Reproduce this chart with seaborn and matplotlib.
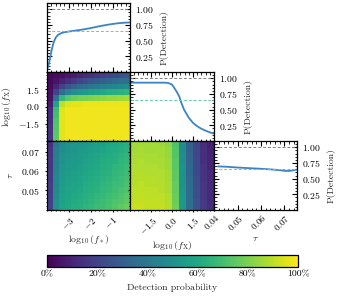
import numpy as np
import pandas as pd
import matplotlib
matplotlib.use("Agg")
import matplotlib.pyplot as plt
import seaborn as sns
from matplotlib.ticker import FixedLocator, AutoMinorLocator, MultipleLocator, FuncFormatter

# ---------------- data ----------------
fstar_range = (-4.0, -0.2)
fx_range = (-3.0, 3.0)
tau_range = (0.0398, 0.0755)

# 1D marginal: P(Detection) vs log10(f_*)
fstar_x = [-4.0, -3.9, -3.8, -3.7, -3.6, -3.5, -3.35, -3.2, -3.0, -2.7, -2.4, -2.0, -1.6, -1.2, -0.8, -0.5, -0.2]
fstar_p = [0.03, 0.15, 0.33, 0.47, 0.55, 0.59, 0.62, 0.635, 0.645, 0.66, 0.675, 0.70, 0.73, 0.755, 0.775, 0.785, 0.79]

# 1D marginal: P(Detection) vs log10(f_X)
fx_x = [-3.0, -2.0, -1.0, -0.5, -0.27, 0.0, 0.18, 0.35, 0.52, 0.63, 0.86, 1.2, 1.5, 1.77, 2.1, 2.45, 2.8, 3.0]
fx_p = [0.93, 0.93, 0.93, 0.93, 0.925, 0.90, 0.84, 0.78, 0.71, 0.63, 0.50, 0.37, 0.29, 0.24, 0.195, 0.16, 0.13, 0.12]

# 1D marginal: P(Detection) vs tau
tau_x = [0.0415, 0.045, 0.050, 0.055, 0.060, 0.065, 0.068, 0.070, 0.072, 0.0735, 0.0755]
tau_p = [0.695, 0.69, 0.677, 0.667, 0.657, 0.645, 0.635, 0.625, 0.622, 0.63, 0.645]

mean_p = 0.65
ref_p = 1.0

# heatmap log10(f_*) (cols) vs log10(f_X) (rows, top -> bottom)
hm_fstar_fx = [
    [0.02, 0.03, 0.04, 0.06, 0.08, 0.10, 0.12, 0.14, 0.16, 0.18, 0.20, 0.22, 0.24, 0.26],
    [0.02, 0.05, 0.09, 0.13, 0.17, 0.20, 0.23, 0.26, 0.28, 0.30, 0.32, 0.34, 0.36, 0.37],
    [0.03, 0.10, 0.19, 0.26, 0.31, 0.34, 0.37, 0.39, 0.41, 0.43, 0.44, 0.46, 0.47, 0.49],
    [0.04, 0.20, 0.36, 0.45, 0.50, 0.53, 0.55, 0.57, 0.59, 0.60, 0.62, 0.63, 0.64, 0.65],
    [0.05, 0.38, 0.66, 0.74, 0.77, 0.79, 0.80, 0.81, 0.82, 0.83, 0.84, 0.84, 0.85, 0.86],
    [0.08, 0.58, 0.90, 0.95, 0.96, 0.96, 0.97, 0.97, 0.97, 0.97, 0.97, 0.97, 0.97, 0.97],
    [0.12, 0.68, 0.95, 0.98, 0.98, 0.98, 0.98, 0.98, 0.98, 0.98, 0.98, 0.98, 0.98, 0.98],
    [0.13, 0.70, 0.96, 0.98, 0.98, 0.98, 0.98, 0.98, 0.98, 0.98, 0.98, 0.98, 0.98, 0.98],
    [0.14, 0.72, 0.96, 0.98, 0.98, 0.98, 0.98, 0.98, 0.98, 0.98, 0.98, 0.98, 0.98, 0.98],
    [0.15, 0.73, 0.96, 0.98, 0.98, 0.98, 0.98, 0.98, 0.98, 0.98, 0.98, 0.98, 0.98, 0.98],
    [0.15, 0.74, 0.96, 0.98, 0.98, 0.98, 0.98, 0.98, 0.98, 0.98, 0.98, 0.98, 0.98, 0.98],
    [0.16, 0.75, 0.96, 0.98, 0.98, 0.98, 0.98, 0.98, 0.98, 0.98, 0.98, 0.98, 0.98, 0.98],
]

# heatmap log10(f_*) (cols) vs tau (rows, top -> bottom)
hm_fstar_tau = [
    [0.14, 0.40, 0.48, 0.50, 0.52, 0.53, 0.54, 0.55, 0.56, 0.57, 0.59, 0.60, 0.61, 0.63],
    [0.15, 0.42, 0.49, 0.51, 0.52, 0.54, 0.55, 0.56, 0.57, 0.58, 0.60, 0.61, 0.62, 0.64],
    [0.15, 0.42, 0.50, 0.52, 0.53, 0.55, 0.56, 0.57, 0.58, 0.60, 0.61, 0.62, 0.64, 0.65],
    [0.16, 0.43, 0.51, 0.53, 0.54, 0.55, 0.57, 0.58, 0.59, 0.61, 0.62, 0.63, 0.65, 0.66],
    [0.16, 0.44, 0.52, 0.54, 0.55, 0.56, 0.58, 0.59, 0.60, 0.62, 0.63, 0.65, 0.66, 0.68],
    [0.17, 0.45, 0.53, 0.55, 0.56, 0.57, 0.59, 0.60, 0.61, 0.63, 0.64, 0.66, 0.67, 0.69],
    [0.17, 0.46, 0.54, 0.56, 0.57, 0.58, 0.60, 0.61, 0.62, 0.64, 0.65, 0.67, 0.68, 0.70],
    [0.18, 0.47, 0.55, 0.57, 0.58, 0.59, 0.61, 0.62, 0.63, 0.65, 0.66, 0.68, 0.69, 0.71],
    [0.18, 0.48, 0.56, 0.58, 0.59, 0.60, 0.62, 0.63, 0.64, 0.66, 0.67, 0.69, 0.71, 0.72],
    [0.19, 0.49, 0.57, 0.58, 0.60, 0.61, 0.63, 0.64, 0.66, 0.67, 0.69, 0.70, 0.72, 0.74],
    [0.19, 0.50, 0.57, 0.59, 0.61, 0.62, 0.64, 0.65, 0.67, 0.68, 0.70, 0.72, 0.73, 0.75],
    [0.20, 0.51, 0.58, 0.60, 0.62, 0.63, 0.65, 0.66, 0.68, 0.69, 0.71, 0.73, 0.75, 0.77],
]

# heatmap log10(f_X) (cols) vs tau (rows, top -> bottom)
hm_fx_tau = [
    [0.86, 0.86, 0.86, 0.86, 0.85, 0.83, 0.72, 0.48, 0.31, 0.20, 0.13, 0.09],
    [0.86, 0.87, 0.86, 0.86, 0.86, 0.84, 0.73, 0.48, 0.31, 0.21, 0.14, 0.09],
    [0.87, 0.87, 0.87, 0.87, 0.86, 0.84, 0.73, 0.49, 0.32, 0.21, 0.14, 0.10],
    [0.87, 0.88, 0.87, 0.87, 0.87, 0.85, 0.74, 0.49, 0.32, 0.22, 0.14, 0.10],
    [0.88, 0.88, 0.88, 0.88, 0.87, 0.85, 0.74, 0.50, 0.33, 0.22, 0.15, 0.10],
    [0.88, 0.89, 0.88, 0.88, 0.88, 0.86, 0.75, 0.50, 0.33, 0.22, 0.15, 0.11],
    [0.89, 0.89, 0.89, 0.89, 0.88, 0.86, 0.75, 0.51, 0.34, 0.23, 0.15, 0.11],
    [0.89, 0.90, 0.89, 0.89, 0.89, 0.87, 0.76, 0.51, 0.34, 0.23, 0.16, 0.11],
    [0.90, 0.90, 0.90, 0.90, 0.89, 0.87, 0.76, 0.52, 0.35, 0.24, 0.16, 0.12],
    [0.90, 0.91, 0.90, 0.90, 0.90, 0.88, 0.77, 0.52, 0.35, 0.24, 0.16, 0.12],
    [0.91, 0.91, 0.91, 0.91, 0.90, 0.88, 0.77, 0.53, 0.36, 0.25, 0.17, 0.12],
    [0.92, 0.92, 0.91, 0.91, 0.91, 0.89, 0.78, 0.53, 0.36, 0.25, 0.17, 0.13],
]

fstar_ticks = [-3, -2, -1]
fx_ticks = [-1.5, 0.0, 1.5]
tau_xticks = [0.04, 0.05, 0.06, 0.07]
tau_yticks = [0.05, 0.06, 0.07]
p_ticks = [0.25, 0.50, 0.75, 1.00]
cbar_ticks = [0.0, 0.2, 0.4, 0.6, 0.8, 1.0]
cbar_labels = ["0%", "20%", "40%", "60%", "80%", "100%"]

# ---------------- style ----------------
sns.set_style("ticks")
plt.rcParams.update({
    "font.family": "serif",
    "font.serif": ["cmr10", "DejaVu Serif"],
    "mathtext.fontset": "cm",
    "axes.formatter.use_mathtext": True,
    "font.size": 7,
    "axes.labelsize": 7,
    "xtick.labelsize": 6.5,
    "ytick.labelsize": 7,
    "axes.edgecolor": "black",
    "axes.linewidth": 0.9,
    "xtick.color": "black",
    "ytick.color": "black",
    "xtick.major.size": 3.5,
    "ytick.major.size": 3.5,
    "xtick.minor.size": 1.8,
    "ytick.minor.size": 1.8,
    "xtick.major.width": 0.8,
    "ytick.major.width": 0.8,
    "xtick.minor.width": 0.6,
    "ytick.minor.width": 0.6,
    "xtick.major.pad": 2.0,
})

cmap = "viridis"
line_color = "#3a84c6"

fig = plt.figure(figsize=(3.38, 3.0), dpi=100)
W, H = 338.0, 300.0
cols = [(47, 130), (130, 214), (214, 297)]
rows = [(3, 72), (72, 141), (141, 210)]


def add_ax(r, c):
    x0, x1 = cols[c]
    y0, y1 = rows[r]
    return fig.add_axes([x0 / W, 1 - y1 / H, (x1 - x0) / W, (y1 - y0) / H])


def style_heat(ax):
    ax.tick_params(which="both", direction="inout", top=True, right=True,
                   bottom=True, left=True)
    ax.xaxis.set_minor_locator(AutoMinorLocator(5))
    ax.yaxis.set_minor_locator(AutoMinorLocator(5))


def style_1d(ax):
    ax.tick_params(which="both", direction="in", top=True, right=True,
                   bottom=True, left=True, labelleft=False, labelright=True)
    ax.set_ylim(0, 1.1)
    ax.yaxis.set_major_locator(FixedLocator(p_ticks))
    ax.yaxis.set_minor_locator(MultipleLocator(0.05))
    ax.xaxis.set_minor_locator(AutoMinorLocator(5))
    ax.yaxis.set_label_position("right")
    ax.set_ylabel("P(Detection)")
    ax.axhline(ref_p, color="gray", lw=0.7, ls=(0, (3, 2)))
    ax.axhline(mean_p, color="mediumaquamarine", lw=0.7, ls=(0, (3, 2)))


def heat(ax, data, xr, yr):
    arr = np.array(data)[::-1]
    ny, nx = arr.shape
    xe = np.linspace(xr[0], xr[1], nx + 1)
    ye = np.linspace(yr[0], yr[1], ny + 1)
    m = ax.pcolormesh(xe, ye, arr, cmap=cmap, vmin=0, vmax=1, shading="flat")
    ax.set_xlim(*xr)
    ax.set_ylim(*yr)
    return m


def rot(ax):
    for lab in ax.get_xticklabels():
        lab.set_rotation(45)
        lab.set_ha("right")
        lab.set_rotation_mode("anchor")


# row 0, col 0 : 1D f*
ax_s1 = add_ax(0, 0)
sns.lineplot(x=fstar_x, y=fstar_p, ax=ax_s1, color=line_color, lw=1.3)
ax_s1.set_xlim(*fstar_range)
ax_s1.xaxis.set_major_locator(FixedLocator(fstar_ticks))
style_1d(ax_s1)
ax_s1.tick_params(labelbottom=False)

# row 1, col 0 : heat f* vs fx
ax_h1 = add_ax(1, 0)
mesh = heat(ax_h1, hm_fstar_fx, fstar_range, fx_range)
ax_h1.xaxis.set_major_locator(FixedLocator(fstar_ticks))
ax_h1.yaxis.set_major_locator(FixedLocator(fx_ticks))
style_heat(ax_h1)
ax_h1.tick_params(labelbottom=False)
ax_h1.set_ylabel(r"$\log_{10}(f_{\rm X})$")

# row 1, col 1 : 1D fx
ax_s2 = add_ax(1, 1)
sns.lineplot(x=fx_x, y=fx_p, ax=ax_s2, color=line_color, lw=1.3)
ax_s2.set_xlim(*fx_range)
ax_s2.xaxis.set_major_locator(FixedLocator(fx_ticks))
style_1d(ax_s2)
ax_s2.tick_params(labelbottom=False)

# row 2, col 0 : heat f* vs tau
ax_h2 = add_ax(2, 0)
heat(ax_h2, hm_fstar_tau, fstar_range, tau_range)
ax_h2.xaxis.set_major_locator(FixedLocator(fstar_ticks))
ax_h2.yaxis.set_major_locator(FixedLocator(tau_yticks))
ax_h2.yaxis.set_major_formatter(FuncFormatter(lambda v, p: r"$\mathdefault{%.2f}$" % v))
style_heat(ax_h2)
ax_h2.set_xlabel(r"$\log_{10}(f_*)$", labelpad=1)
ax_h2.set_ylabel(r"$\tau$")
rot(ax_h2)

# row 2, col 1 : heat fx vs tau
ax_h3 = add_ax(2, 1)
heat(ax_h3, hm_fx_tau, fx_range, tau_range)
ax_h3.xaxis.set_major_locator(FixedLocator(fx_ticks))
ax_h3.yaxis.set_major_locator(FixedLocator(tau_yticks))
style_heat(ax_h3)
ax_h3.tick_params(labelleft=False)
ax_h3.set_xlabel(r"$\log_{10}(f_{\rm X})$", labelpad=1)
rot(ax_h3)

# row 2, col 2 : 1D tau
ax_s3 = add_ax(2, 2)
sns.lineplot(x=tau_x, y=tau_p, ax=ax_s3, color=line_color, lw=1.3)
ax_s3.set_xlim(*tau_range)
ax_s3.xaxis.set_major_locator(FixedLocator(tau_xticks))
ax_s3.xaxis.set_major_formatter(FuncFormatter(lambda v, p: r"$\mathdefault{%.2f}$" % v))
style_1d(ax_s3)
ax_s3.set_xlabel(r"$\tau$", labelpad=1)
rot(ax_s3)

fig.align_ylabels([ax_h1, ax_h2])
fig.align_xlabels([ax_h2, ax_h3, ax_s3])

# colorbar
cax = fig.add_axes([47 / W, 1 - 267 / H, 251 / W, 12 / H])
cb = fig.colorbar(mesh, cax=cax, orientation="horizontal")
cb.set_ticks(cbar_ticks)
cb.set_ticklabels(cbar_labels)
cb.ax.xaxis.set_minor_locator(MultipleLocator(0.05))
cb.ax.tick_params(which="both", direction="in", bottom=True, top=False, labelsize=7)
cb.outline.set_linewidth(0.9)
cb.set_label("Detection probability")

fig.savefig("out.png", dpi=100)
